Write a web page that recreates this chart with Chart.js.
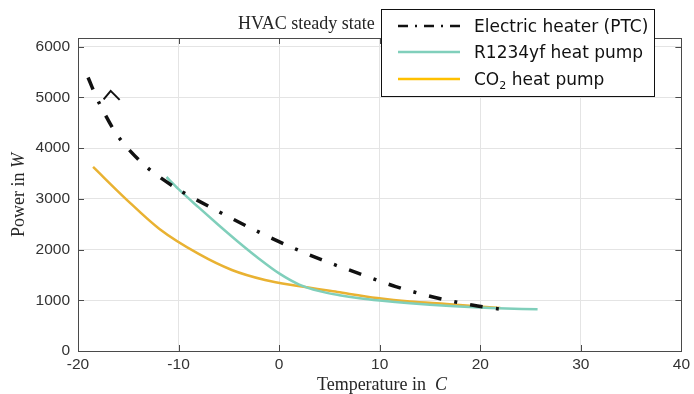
<!DOCTYPE html>
<html>
<head>
<meta charset="utf-8">
<script src="https://cdn.jsdelivr.net/npm/chart.js@4/dist/chart.umd.min.js"></script>
<style>
  body { margin: 0; background: #fff; }
  #wrap { position: relative; width: 694px; height: 394px; overflow: hidden; }
  #chart { position: absolute; left: 0; top: 0; }
  .lbl { position: absolute; font-family: "Liberation Serif", serif; color: #262626; white-space: nowrap; }
  #title { left: 238px; top: 13px; font-size: 18px; line-height: 20px; }
  #xlabel { left: 382px; top: 374px; font-size: 18px; line-height: 20px; transform: translateX(-50%); }
  #ylabel { left: 18px; top: 195px; font-size: 18px; line-height: 20px; transform: translate(-50%, -50%) rotate(-90deg); }
  #legend { position: absolute; left: 381px; top: 9px; width: 272px; height: 86px; background: #fff;
            border: 1.5px solid #111; font-family: "DejaVu Sans", sans-serif; font-size: 17px; color: #111; }
  .row { position: absolute; left: 0; height: 26px; width: 100%; }
  .row svg { position: absolute; left: 16px; top: 0; }
  .row span { position: absolute; left: 92px; top: 2px; line-height: 22px; }
  sub { font-size: 11px; vertical-align: -4px; line-height: 0; }
</style>
</head>
<body>
<div id="wrap">
  <canvas id="chart" width="694" height="394"></canvas>
  <div class="lbl" id="title">HVAC steady state</div>
  <div class="lbl" id="ylabel">Power in <i>W</i></div>
  <div class="lbl" id="xlabel">Temperature in &nbsp;<i>C</i></div>
  <div id="legend">
    <div class="row" style="top:3px">
      <svg width="62" height="26"><line x1="0" y1="13" x2="62" y2="13" stroke="#111" stroke-width="2.5" stroke-dasharray="10 7 2 7"/></svg>
      <span>Electric heater (PTC)</span>
    </div>
    <div class="row" style="top:29px">
      <svg width="62" height="26"><line x1="0" y1="13" x2="62" y2="13" stroke="#80cfbb" stroke-width="2.5"/></svg>
      <span>R1234yf heat pump</span>
    </div>
    <div class="row" style="top:56px">
      <svg width="62" height="26"><line x1="0" y1="13" x2="62" y2="13" stroke="#ffc000" stroke-width="2.5"/></svg>
      <span>CO<sub>2</sub> heat pump</span>
    </div>
  </div>
</div>
<script>
// temperatures in C, power in W
var ptcTemp   = [-19.0, -17.9, -15.9, -13.2, -10.0, -6.5, -3.0, 0.5, 4.2, 7.9, 11.6, 15.4, 19.3, 22.0];
var ptcPower  = [5390, 4890, 4200, 3630, 3180, 2800, 2440, 2110, 1800, 1530, 1270, 1060, 900, 825];

// small stray kink near the start of the PTC curve
var kinkTemp  = [-17.45, -16.75, -15.86];
var kinkPower = [4960, 5127, 4950];

var r1234Temp  = [-11.2, -10.0, -8.0, -6.0, -4.0, -2.0, 0.0, 2.0, 4.0, 6.0, 8.0, 10.0, 13.0, 17.0, 21.0, 25.7];
var r1234Power = [3430, 3190, 2830, 2480, 2140, 1820, 1530, 1310, 1180, 1100, 1040, 995, 940, 885, 848, 822];

var co2Temp  = [-18.5, -15.2, -11.9, -8.0, -4.7, -1.4, 1.9, 5.8, 9.75, 13.0, 16.65, 22.0];
var co2Power = [3628, 2990, 2405, 1913, 1597, 1400, 1282, 1163, 1045, 975, 927, 848];

var xTicks = [-20, -10, 0, 10, 20, 30, 40];
var yTicks = [0, 1000, 2000, 3000, 4000, 5000, 6000];

function toPoints(xs, ys) {
  return xs.map(function (x, i) { return { x: x, y: ys[i] }; });
}

var boxPlugin = {
  id: 'box',
  beforeDatasetsDraw: function (chart) {
    var ctx = chart.ctx, a = chart.chartArea;
    var xs = chart.scales.x, ys = chart.scales.y;
    ctx.save();
    ctx.strokeStyle = '#4a4a4a';
    ctx.lineWidth = 1;
    ctx.beginPath();
    xTicks.forEach(function (t) {
      var px = Math.round(xs.getPixelForValue(t)) + 0.5;
      ctx.moveTo(px, a.bottom); ctx.lineTo(px, a.bottom - 6);
      ctx.moveTo(px, a.top); ctx.lineTo(px, a.top + 6);
    });
    yTicks.forEach(function (t) {
      var py = Math.round(ys.getPixelForValue(t)) + 0.5;
      ctx.moveTo(a.left, py); ctx.lineTo(a.left + 6, py);
      ctx.moveTo(a.right, py); ctx.lineTo(a.right - 6, py);
    });
    ctx.stroke();
    ctx.strokeRect(Math.round(a.left) + 0.5, Math.round(a.top) + 0.5,
                   Math.round(a.right - a.left), Math.round(a.bottom - a.top));
    ctx.restore();
  }
};

new Chart(document.getElementById('chart'), {
  type: 'line',
  data: {
    datasets: [
      {
        label: 'Electric heater (PTC)',
        data: toPoints(ptcTemp, ptcPower),
        borderColor: '#111', borderWidth: 3.5,
        borderDash: [13, 13, 3, 13], borderCapStyle: 'butt',
        tension: 0.3, pointRadius: 0
      },
      {
        label: 'kink',
        data: toPoints(kinkTemp, kinkPower),
        borderColor: '#111', borderWidth: 2, tension: 0, pointRadius: 0
      },
      {
        label: 'R1234yf heat pump',
        data: toPoints(r1234Temp, r1234Power),
        borderColor: '#80cfbb', borderWidth: 2.5,
        cubicInterpolationMode: 'monotone', pointRadius: 0
      },
      {
        label: 'CO2 heat pump',
        data: toPoints(co2Temp, co2Power),
        borderColor: '#e9b232', borderWidth: 2.5,
        cubicInterpolationMode: 'monotone', pointRadius: 0
      }
    ]
  },
  options: {
    responsive: false,
    animation: false,
    layout: { padding: { top: 38, right: 7, left: 0, bottom: 0 } },
    plugins: { legend: { display: false }, tooltip: { enabled: false } },
    scales: {
      x: {
        type: 'linear', min: -20, max: 40,
        afterBuildTicks: function (s) { s.ticks = xTicks.map(function (v) { return { value: v }; }); },
        afterFit: function (s) { s.height = 43; },
        grid: { color: '#e4e4e4', drawTicks: false },
        border: { display: false },
        ticks: { color: '#333', padding: 4, maxRotation: 0, font: { family: 'Liberation Sans', size: 15.5 },
                 callback: function (v) { return String(v); } }
      },
      y: {
        type: 'linear', min: 0, max: 6170,
        afterBuildTicks: function (s) { s.ticks = yTicks.map(function (v) { return { value: v }; }); },
        afterFit: function (s) { s.width = 78; },
        grid: { color: '#e4e4e4', drawTicks: false },
        border: { display: false },
        ticks: { color: '#333', padding: 8, font: { family: 'Liberation Sans', size: 15.5 },
                 callback: function (v) { return String(v); } }
      }
    }
  },
  plugins: [boxPlugin]
});
</script>
</body>
</html>
